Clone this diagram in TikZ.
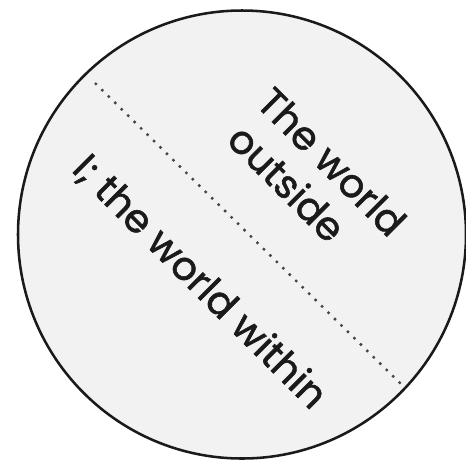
\documentclass[tikz,border=0pt]{standalone}
\usepackage{fontspec}
\setmainfont{Poppins}
\newfontfamily\labelfont{Poppins}[FakeBold=1.4]
\definecolor{disc}{HTML}{F2F2F2}
\definecolor{ink}{HTML}{1A1A1A}
\definecolor{dotgray}{HTML}{444444}
\tikzset{
  disc/.style={circle, draw=ink, line width=1.9pt, fill=disc, minimum size=336pt, inner sep=0pt},
  label45/.style={rotate=-45, anchor=base west, inner sep=0pt, text=ink, font=\labelfont\fontsize{29.5}{35}\selectfont},
  divider/.style={draw=dotgray, line width=1.8pt, dash pattern=on 1.8pt off 5pt}
}
\begin{document}
\begin{tikzpicture}[x=0.75pt,y=-0.75pt]
\useasboundingbox (0,0) rectangle (466,465);
\node[disc] (world) at (242,234.5) {};
\coordinate (d1) at (95,83);
\coordinate (d2) at (402,385);
\path[divider] (d1) -- (d2);
\node[label45] (outer1) at (254.5,104.5) {The world};
\node[label45] (outer2) at (225,141.5) {outside};
\node[label45] (inner) at (70.5,170.5) {I; the world within};
\end{tikzpicture}
\end{document}
